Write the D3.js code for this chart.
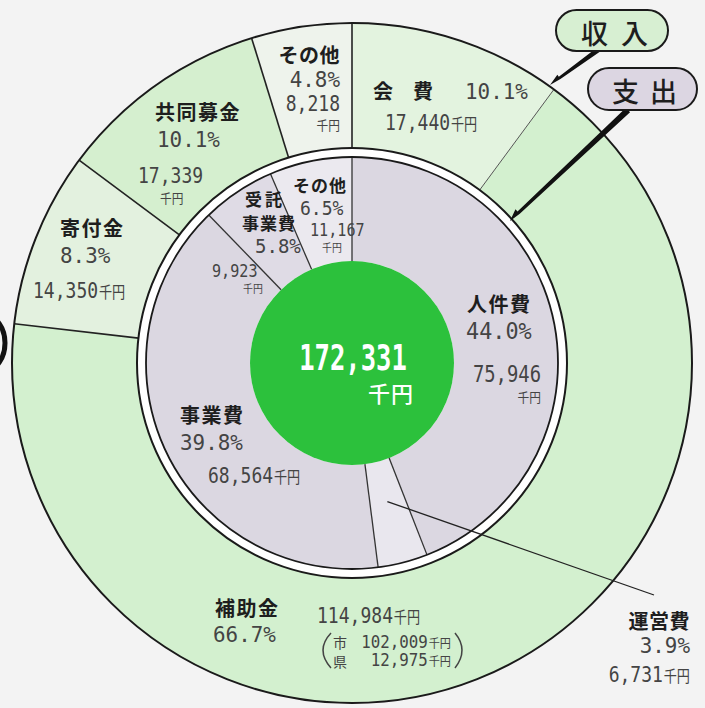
<!DOCTYPE html>
<html><head><meta charset="utf-8">
<script src="https://cdn.jsdelivr.net/npm/d3@7"></script>
<style>html,body{margin:0;padding:0;background:#f3f3f3;}svg{display:block;}</style>
</head><body>
<svg id="c" width="705" height="708"></svg>
<script>
// ---- data ----
const incomeCats = ["会費", "補助金", "寄付金", "共同募金", "その他"];
const incomeValues = [17440, 114984, 14350, 17339, 8218];
const incomePct = ["10.1%", "66.7%", "8.3%", "10.1%", "4.8%"];
const expenseCats = ["人件費", "運営費", "事業費", "受託事業費", "その他"];
const expenseValues = [75946, 6731, 68564, 9923, 11167];
const expensePct = ["44.0%", "3.9%", "39.8%", "5.8%", "6.5%"];
const totalValue = 172331;
const subsidyParts = ["市", "県"];
const subsidyValues = [102009, 12975];
const unit = "千円";
const ringNames = ["収入", "支出"];

// ---- layout ----
const W = 705, H = 708, cx = 352, cy = 363;
const R_OUT = 340, R_GIN = 215, R_LOUT = 206, R_CORE = 102;
const incomeColors = ["#e3f3df", "#d3f0cf", "#e3f1df", "#d5efcf", "#eef3ec"];
const expenseColors = ["#dbd7e1", "#e9e7ee", "#dbd7e1", "#dfdbe5", "#ebe9ef"];
const CJK = "'Noto Sans CJK JP','Noto Sans CJK SC',sans-serif";
const MONO = "'DejaVu Sans Mono','Liberation Mono',monospace";
const fmt = d3.format(",");

const svg = d3.select("#c");
svg.append("rect").attr("width", W).attr("height", H).attr("fill", "#f3f3f3");
const g = svg.append("g").attr("transform", `translate(${cx},${cy})`);

const pie = d3.pie().sort(null).value(d => d);
const incArcs = pie(incomeValues);
const expArcs = pie(expenseValues);

const outerArc = d3.arc().innerRadius(R_GIN).outerRadius(R_OUT);
const innerArc = d3.arc().innerRadius(R_CORE).outerRadius(R_LOUT);

g.selectAll("path.inc").data(incArcs).join("path").attr("class", "inc")
  .attr("d", outerArc).attr("fill", (d, i) => incomeColors[i]);
g.append("circle").attr("r", R_GIN).attr("fill", "#ffffff");
g.selectAll("path.exp").data(expArcs).join("path").attr("class", "exp")
  .attr("d", innerArc).attr("fill", (d, i) => expenseColors[i]);
g.append("circle").attr("r", R_CORE).attr("fill", "#2cc13c");

function radial(a, r0, r1) {
  return [[Math.sin(a) * r0, -Math.cos(a) * r0], [Math.sin(a) * r1, -Math.cos(a) * r1]];
}
incArcs.forEach((d, i) => {
  const p = radial(d.startAngle, R_GIN, R_OUT);
  g.append("line").attr("x1", p[0][0]).attr("y1", p[0][1]).attr("x2", p[1][0]).attr("y2", p[1][1])
    .attr("stroke", i === 1 ? "#555" : "#222").attr("stroke-width", i === 1 ? 1 : 1.6);
});
expArcs.forEach((d, i) => {
  const p = radial(d.startAngle, R_CORE, R_LOUT);
  g.append("line").attr("x1", p[0][0]).attr("y1", p[0][1]).attr("x2", p[1][0]).attr("y2", p[1][1])
    .attr("stroke", "#333").attr("stroke-width", 1.3);
});
g.append("circle").attr("r", R_OUT).attr("fill", "none").attr("stroke", "#1a1a1a").attr("stroke-width", 2);
g.append("circle").attr("r", R_GIN).attr("fill", "none").attr("stroke", "#1a1a1a").attr("stroke-width", 2);
g.append("circle").attr("r", R_LOUT).attr("fill", "none").attr("stroke", "#1a1a1a").attr("stroke-width", 1.8);

// ---- text helpers ----
function label(x, y, str, o = {}) {
  return svg.append("text")
    .attr("transform", `translate(${x},${y}) scale(${o.sx || 1},1)`)
    .attr("text-anchor", o.anchor || "start")
    .attr("font-family", o.font || CJK)
    .attr("font-size", o.size || 20)
    .attr("font-weight", o.weight || 400)
    .attr("fill", o.fill || "#444")
    .attr("letter-spacing", o.ls || 0)
    .text(str);
}
function bold(x, y, str, o = {}) {
  return label(x, y, str, Object.assign({ weight: 700, fill: "#1e1e1e", size: 20, ls: 1.5 }, o));
}
function pct(x, y, str, o = {}) {
  return label(x, y, str, Object.assign({ font: MONO, size: 22, sx: 0.95, fill: "#444" }, o));
}
function num(x, y, v, o = {}) {
  const t = label(x, y, fmt(v), Object.assign({ font: MONO, size: 22, sx: 0.82, fill: "#444" }, o));
  if (o.suffix) {
    t.append("tspan").attr("font-family", CJK).attr("font-size", o.suffix).attr("dx", 1).text(unit);
  }
  return t;
}
function unitText(x, y, o = {}) {
  return label(x, y, unit, Object.assign({ size: 13, fill: "#444", sx: 0.9 }, o));
}

// ---- income labels ----
bold(373, 99, incomeCats[0][0] + "　" + incomeCats[0][1], { ls: 0 });
pct(465, 99, incomePct[0]);
num(385, 130, incomeValues[0], { suffix: 16 });

bold(215, 616, incomeCats[1]);
pct(213, 642, incomePct[1]);
num(317, 623, incomeValues[1], { suffix: 16 });
label(333, 648, subsidyParts[0], { size: 14, fill: "#444" });
label(333, 667, subsidyParts[1], { size: 14, fill: "#444" });
num(451, 648, subsidyValues[0], { size: 17, sx: 0.93, anchor: "end", suffix: 12 });
num(451, 666, subsidyValues[1], { size: 17, sx: 0.93, anchor: "end", suffix: 12 });
svg.append("path").attr("d", "M331,633 Q315,650 331,668").attr("fill", "none").attr("stroke", "#444").attr("stroke-width", 1.5);
svg.append("path").attr("d", "M455,633 Q469,650 455,668").attr("fill", "none").attr("stroke", "#444").attr("stroke-width", 1.5);

bold(60, 236, incomeCats[2]);
pct(60, 263, incomePct[2]);
num(33, 298, incomeValues[2], { suffix: 16 });

bold(155, 120, incomeCats[3]);
pct(157, 147, incomePct[3]);
num(138, 183, incomeValues[3]);
unitText(160, 203);

bold(340, 63, incomeCats[4], { anchor: "end", ls: 0.5 });
pct(340, 87, incomePct[4], { anchor: "end" });
num(340, 111, incomeValues[4], { anchor: "end" });
unitText(340, 130, { anchor: "end" });

// ---- expense labels ----
bold(467, 312, expenseCats[0]);
pct(466, 339, expensePct[0], { size: 23 });
num(541, 382, expenseValues[0], { anchor: "end", size: 23 });
unitText(541, 402, { anchor: "end" });

bold(690, 629, expenseCats[1], { anchor: "end", ls: 0.5 });
pct(690, 653, expensePct[1], { anchor: "end" });
num(690, 682, expenseValues[1], { anchor: "end", suffix: 16 });

bold(180, 423, expenseCats[2]);
pct(180, 450, expensePct[2]);
num(208, 483, expenseValues[2], { suffix: 16 });

bold(245, 206, expenseCats[3].slice(0, 2), { size: 17, ls: 3 });
bold(242, 230, expenseCats[3].slice(2), { size: 17, ls: 1 });
pct(255, 253, expensePct[3], { size: 19, sx: 1 });
num(212, 277, expenseValues[3], { size: 18, sx: 0.84 });
unitText(243, 293, { size: 11 });

bold(293, 192, expenseCats[4], { size: 17, ls: 1 });
pct(300, 215, expensePct[4], { size: 19, sx: 0.95 });
num(310, 236, expenseValues[4], { size: 18, sx: 0.84 });
unitText(322, 252, { size: 11 });

// leader for 運営費
const opMid = (expArcs[1].startAngle + expArcs[1].endAngle) / 2;
svg.append("line")
  .attr("x1", cx + Math.sin(opMid) * 143).attr("y1", cy - Math.cos(opMid) * 143)
  .attr("x2", 654).attr("y2", 595)
  .attr("stroke", "#222").attr("stroke-width", 1.3);

// ---- center ----
label(cx + 1, 370, fmt(totalValue), { font: MONO, size: 36, sx: 0.71, anchor: "middle", fill: "#ffffff", weight: 700 });
label(391, 402, unit, { size: 22, weight: 500, fill: "#ffffff", anchor: "middle", ls: 1 });

// ---- ring name pills & arrows ----
function arrow(x1, y1, x2, y2, w) {
  const dx = x2 - x1, dy = y2 - y1, L = Math.hypot(dx, dy);
  const ux = dx / L, uy = dy / L, nx = -uy, ny = ux;
  const hl = 12;
  const bx = x2 - ux * hl, by = y2 - uy * hl;
  const pts = [
    [x1 + nx * w / 2, y1 + ny * w / 2],
    [bx + nx * w * 0.3, by + ny * w * 0.3],
    [bx + nx * w * 0.8, by + ny * w * 0.8],
    [x2, y2],
    [bx - nx * w * 0.25, by - ny * w * 0.25],
    [x1 - nx * w / 2, y1 - ny * w / 2]
  ];
  svg.append("path").attr("d", "M" + pts.map(p => p.join(",")).join("L") + "Z").attr("fill", "#111");
}
arrow(598, 50, 550, 85, 5);
arrow(628, 110, 510, 221, 6);

svg.append("rect").attr("x", 556).attr("y", 10).attr("width", 112).attr("height", 41).attr("rx", 20.5)
  .attr("fill", "#d7efd2").attr("stroke", "#1a1a1a").attr("stroke-width", 2);
svg.append("rect").attr("x", 588).attr("y", 68).attr("width", 109).attr("height", 42).attr("rx", 21)
  .attr("fill", "#dcd6e2").attr("stroke", "#1a1a1a").attr("stroke-width", 2);
label(581, 44, ringNames[0], { size: 27, weight: 500, fill: "#1e1e1e", ls: 13 });
label(612, 102, ringNames[1], { size: 27, weight: 500, fill: "#1e1e1e", ls: 11 });

// partial shape at left edge
svg.append("ellipse").attr("cx", -14).attr("cy", 343).attr("rx", 19).attr("ry", 27)
  .attr("fill", "none").attr("stroke", "#111").attr("stroke-width", 5);
</script>
</body></html>
